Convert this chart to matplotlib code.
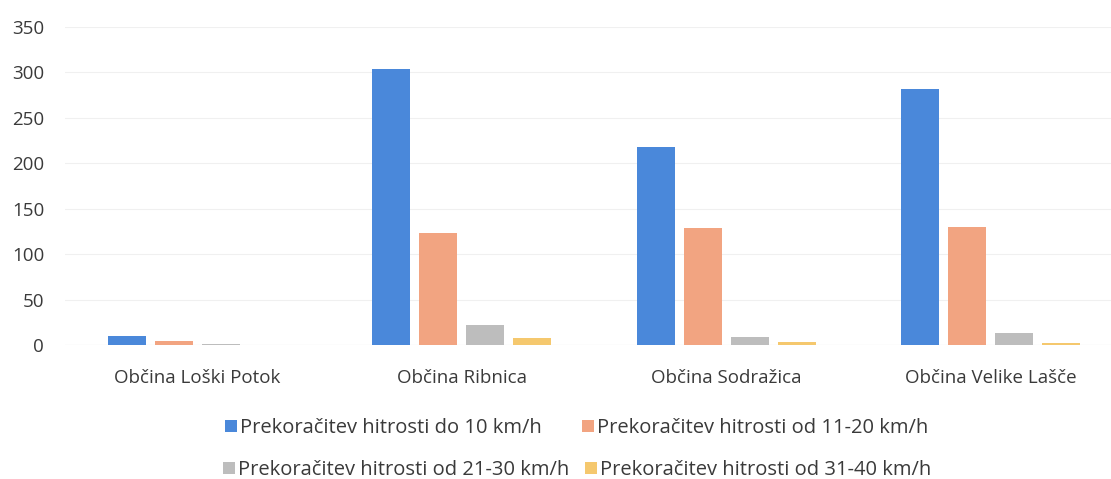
import matplotlib
matplotlib.use("Agg")
import matplotlib.pyplot as plt
import numpy as np
from matplotlib.patches import Patch

categories = ["Občina Loški Potok", "Občina Ribnica", "Občina Sodražica", "Občina Velike Lašče"]
series_names = [
    "Prekoračitev hitrosti do 10 km/h",
    "Prekoračitev hitrosti od 11-20 km/h",
    "Prekoračitev hitrosti od 21-30 km/h",
    "Prekoračitev hitrosti od 31-40 km/h",
]
s1 = [10, 304, 218, 282]
s2 = [4, 123, 129, 130]
s3 = [1, 22, 9, 13]
s4 = [0, 8, 3, 2]
yticks = [0, 50, 100, 150, 200, 250, 300, 350]
colors = ["#4A88DA", "#F2A481", "#BDBDBD", "#F5C86E"]

plt.rcParams['font.family'] = ['Open Sans', 'DejaVu Sans']

W, H = 1111, 479
fig = plt.figure(figsize=(W / 100, H / 100), dpi=100)
left_px, right_px, top_px, bot_px = 65, 1111, 27, 345
ax = fig.add_axes([left_px / W, (H - bot_px) / H, (right_px - left_px) / W, (bot_px - top_px) / H])

x = np.arange(len(categories))
bw = 0.143
step = 0.178
allv = [s1, s2, s3, s4]
for i, (vals, c) in enumerate(zip(allv, colors)):
    ax.bar(x + (i - 1.5) * step, vals, width=bw, color=c, zorder=3, label=series_names[i])

span = 1111 - 65
cat_px = 264.5
ax.set_xlim(-0.5, -0.5 + span / cat_px)
ax.set_ylim(0, 350)
ax.set_yticks(yticks)
ax.set_xticks(x)
ax.set_xticklabels(categories)
ax.grid(axis='y', color='#F0F0F0', linewidth=0.8, zorder=0)
for s in ax.spines.values():
    s.set_visible(False)
ax.axhline(0, color='#E6E6E6', linewidth=0.8, zorder=2)
ax.tick_params(axis='both', length=0, labelsize=13.5, colors='#3A3A3A')
ax.tick_params(axis='y', pad=15)
ax.tick_params(axis='x', pad=17)

handles = [Patch(facecolor=c, edgecolor='none') for c in colors]
kw = dict(frameon=False, fontsize=14.5, handlelength=0.6, handleheight=0.6,
          handletextpad=0.15, columnspacing=2.0, labelcolor='#3A3A3A',
          borderpad=0, borderaxespad=0)
leg1 = fig.legend(handles[:2], series_names[:2], ncol=2, loc='center',
                  bbox_to_anchor=(577 / W, 1 - 428 / H), **kw)
kw2 = dict(kw)
kw2['columnspacing'] = 0.8
leg2 = fig.legend(handles[2:], series_names[2:], ncol=2, loc='center',
                  bbox_to_anchor=(577 / W, 1 - 470 / H), **kw2)

fig.savefig("out.png", dpi=100)
